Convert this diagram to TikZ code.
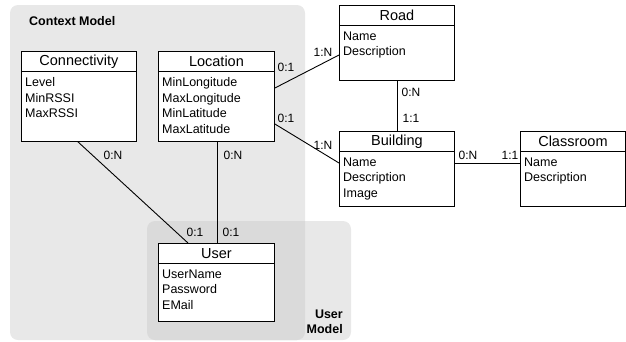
\documentclass[tikz,border=0pt]{standalone}
\usepackage{fontspec}
\setmainfont{Liberation Sans}
\usetikzlibrary{calc}
\definecolor{regiongray}{HTML}{E8E8E8}
\definecolor{overlapgray}{HTML}{DADADA}
\tikzset{
  ebox/.style={draw=black, fill=white, line width=0.9pt, inner sep=0pt, rectangle},
  etitle/.style={font=\fontsize{14.5}{17}\selectfont, inner sep=0pt},
  eattr/.style={font=\fontsize{12.5}{15.6}\selectfont, align=left, inner sep=0pt, anchor=north west},
  card/.style={font=\fontsize{12}{14}\selectfont, inner sep=0pt},
  region/.style={font=\bfseries\fontsize{12.5}{15}\selectfont, inner sep=0pt},
  link/.style={draw=black, line width=0.9pt},
}
% entity box: name, left, top, width, height, title, attributes
\newcommand\entitybox[7]{%
  \node[ebox, minimum width=#4pt, minimum height=#5pt, anchor=north west] (#1) at (#2,#3) {};
  \draw[line width=0.9pt] ($(#1.north west)+(0,20)$) -- ($(#1.north east)+(0,20)$);
  \node[etitle] (#1-title) at ($(#1.north)+(0,10.5)$) {#6};
  \node[eattr] (#1-attrs) at ($(#1.north west)+(4,26.5)$) {#7};
}
\begin{document}
\begin{tikzpicture}[x=1pt, y=-1pt]
  \useasboundingbox (0,0) rectangle (626,341);
  % model regions
  \fill[regiongray, rounded corners=8pt] (10,5) rectangle (305,340);
  \fill[regiongray, rounded corners=8pt] (147,221) rectangle (351,340);
  \begin{scope}
    \clip[rounded corners=8pt] (10,5) rectangle (305,340);
    \fill[overlapgray, rounded corners=8pt] (147,221) rectangle (351,340);
  \end{scope}
  \node[region, anchor=west] (ctxlabel) at (29,21) {Context Model};
  \node[region, align=right, anchor=north east, font=\bfseries\fontsize{12.5}{15}\selectfont] (userlabel) at (343,310) {User\\Model};

  % entities
  \entitybox{conn}{21}{51}{115}{90}{Connectivity}{Level\\MinRSSI\\MaxRSSI}
  \entitybox{loc}{158}{51}{116}{90}{Location}{MinLongitude\\MaxLongitude\\MinLatitude\\MaxLatitude}
  \entitybox{road}{339}{5}{115}{75}{Road}{Name\\Description}
  \entitybox{bldg}{339}{131}{115}{75}{Building}{Name\\Description\\Image}
  \entitybox{room}{520}{131}{105}{75}{Classroom}{Name\\Description}
  \entitybox{user}{158}{243}{116}{78}{User}{UserName\\Password\\EMail}

  % relationships
  \draw[link] ($(loc.north east)+(0,37)$) -- ($(road.north west)+(0,50)$);
  \draw[link] ($(loc.north east)+(0,73)$) -- ($(bldg.north west)+(0,32)$);
  \draw[link] ($(road.south west)+(58,0)$) -- ($(bldg.north west)+(58,0)$);
  \draw[link] ($(bldg.north east)+(0,32)$) -- ($(room.north west)+(0,32)$);
  \draw[link] ($(conn.south west)+(57,0)$) -- ($(user.north west)+(30,0)$);
  \draw[link] ($(loc.south west)+(59,0)$) -- ($(user.north west)+(59,0)$);

  % cardinalities
  \node[card] (c1) at (286,67) {0:1};
  \node[card] (c2) at (286,118) {0:1};
  \node[card] (c3) at (323,52) {1:N};
  \node[card] (c4) at (323,145) {1:N};
  \node[card] (c5) at (411,92) {0:N};
  \node[card] (c6) at (411,118) {1:1};
  \node[card] (c7) at (468,155) {0:N};
  \node[card] (c8) at (510,155) {1:1};
  \node[card] (c9) at (113,155) {0:N};
  \node[card] (c10) at (233,155) {0:N};
  \node[card] (c11) at (195,232) {0:1};
  \node[card] (c12) at (231,232) {0:1};
\end{tikzpicture}
\end{document}
